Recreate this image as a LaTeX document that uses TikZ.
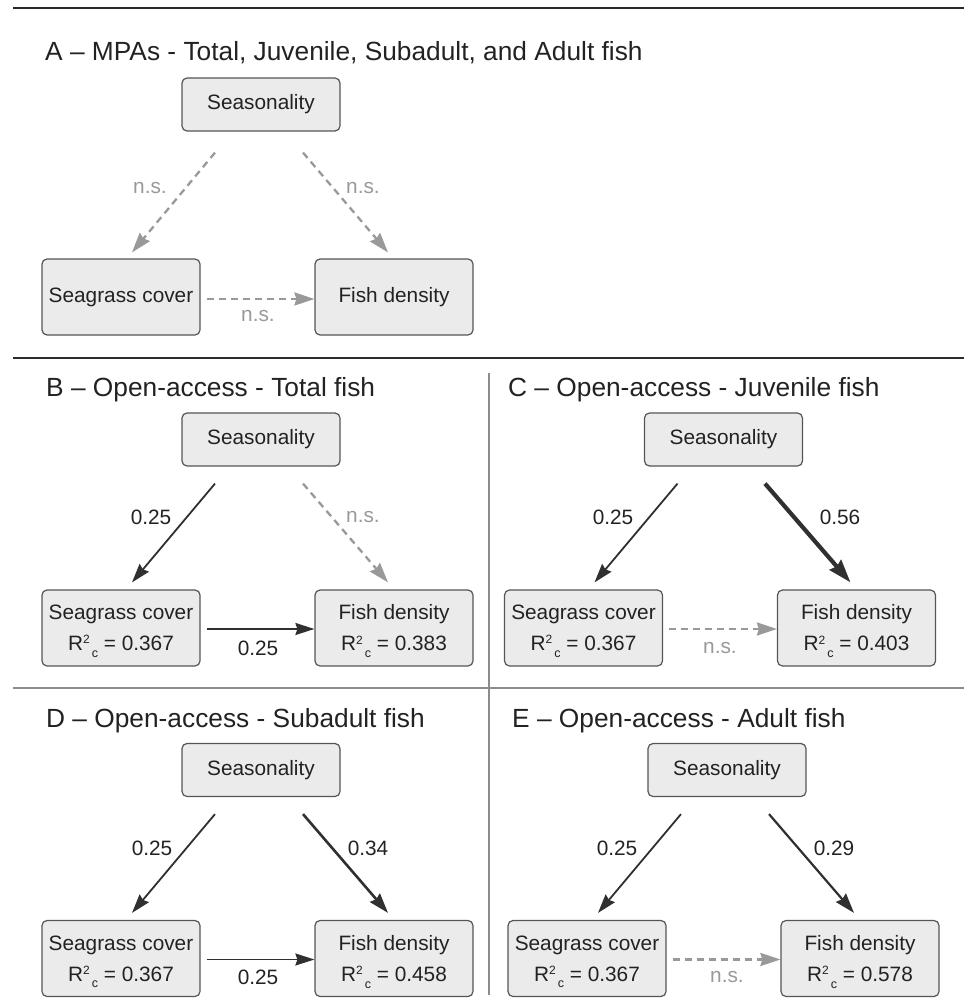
\documentclass[tikz,border=0pt]{standalone}
\usepackage{fontspec}
\setmainfont{Liberation Sans}
\usetikzlibrary{arrows.meta,calc}
\definecolor{boxfill}{HTML}{EBEBEB}
\definecolor{boxborder}{HTML}{555555}
\definecolor{dark}{HTML}{303030}
\definecolor{nsgray}{HTML}{999999}
\definecolor{textcol}{HTML}{222222}
\definecolor{sepgray}{HTML}{8C8C8C}
\definecolor{ruledark}{HTML}{2B2B2B}
\newcommand\nodefont{\fontsize{20.8}{31}\selectfont}
\newcommand\titlefont{\fontsize{26.3}{30}\selectfont}
\newcommand\Rc{R\raisebox{6.7pt}{\fontsize{12}{12}\selectfont 2}\hspace{2pt}\raisebox{-6.6pt}[0pt][0pt]{\fontsize{12.5}{12}\selectfont c}}
\begin{document}
\begin{tikzpicture}[x=1pt,y=-1pt,
  box/.style={draw=boxborder, fill=boxfill, rounded corners=5pt, line width=1.2pt,
    minimum width=158pt, inner sep=0pt, text=textcol, font=\nodefont, align=center},
  season/.style={box, minimum height=53pt},
  pair/.style={box, minimum height=76pt},
  sig/.style={draw=dark, line width=1.8pt, -{Stealth[length=19pt,width=12pt,inset=2pt]}},
  sigmid/.style={sig, line width=2.6pt, -{Stealth[length=20pt,width=13pt,inset=2pt]}},
  sigthin/.style={sig, line width=2.2pt, -{Stealth[length=20pt,width=13pt,inset=2pt]}},
  sigbig/.style={sig, line width=4.2pt, -{Stealth[length=23pt,width=15pt,inset=2pt]}},
  nsarrow/.style={draw=nsgray, line width=2.3pt, dash pattern=on 7pt off 5pt,
    -{Stealth[length=20pt,width=13pt,inset=2pt]}},
  lab/.style={font=\nodefont, text=textcol, inner sep=0pt},
  nslab/.style={lab, text=nsgray},
  ttl/.style={font=\titlefont, text=textcol, inner sep=0pt, anchor=base west},
  rule/.style={draw=ruledark, line width=2.6pt},
  sep/.style={draw=sepgray, line width=1.8pt}]
\useasboundingbox (0,0) rectangle (964,1000);

% rules
\draw[rule] (13,8) -- (964,8);
\draw[rule] (13,358) -- (964,358);
\draw[sep] (13,688) -- (964,688);
\draw[sep] (489,373) -- (489,995);

% titles
\node[ttl] (tA) at (45,61) {A -- MPAs - Total, Juvenile, Subadult, and Adult fish};
\node[ttl] (tB) at (46,396) {B -- Open-access - Total fish};
\node[ttl] (tC) at (508,396) {C -- Open-access - Juvenile fish};
\node[ttl] (tD) at (46,727) {D -- Open-access - Subadult fish};
\node[ttl] (tE) at (512,727) {E -- Open-access - Adult fish};

% Panel A
\node[season] (sA) at (261,104.5) {Seasonality};
\node[pair] (gA) at (121,297) {Seagrass cover};
\node[pair] (fA) at (394,297) {Fish density};
\draw[nsarrow] ($(sA.south)+(-46,21)$) -- ($(gA.north)+(11,-6)$);
\draw[nsarrow] ($(sA.south)+(42,21)$) -- ($(fA.north)+(-6,-6)$);
\draw[nsarrow] ($(gA.east)+(6,2)$) -- ($(fA.west)+(0,2)$);
\node[nslab] (nA1) at (150,188) {n.s.};
\node[nslab] (nA2) at (363,188) {n.s.};
\node[nslab] (nA3) at (258,316) {n.s.};

% Panel B
\node[season] (sB) at (261,439.5) {Seasonality};
\node[pair] (gB) at (121,628) {Seagrass cover\\\Rc{} = 0.367};
\node[pair] (fB) at (394,628) {Fish density\\\Rc{} = 0.383};
\draw[sig] ($(sB.south)+(-46,17)$) -- ($(gB.north)+(11,-7)$);
\draw[nsarrow] ($(sB.south)+(42,17)$) -- ($(fB.north)+(-6,-7)$);
\draw[sig] ($(gB.east)+(6,1)$) -- ($(fB.west)+(0,1)$);
\node[lab] (lB1) at (151,517) {0.25};
\node[nslab] (lB2) at (363,517) {n.s.};
\node[lab] (lB3) at (258,648) {0.25};

% Panel C
\begin{scope}[shift={(462.5,0)}]
\node[season] (sC) at (261,439.5) {Seasonality};
\node[pair] (gC) at (121,628) {Seagrass cover\\\Rc{} = 0.367};
\node[pair] (fC) at (394,628) {Fish density\\\Rc{} = 0.403};
\draw[sig] ($(sC.south)+(-46,17)$) -- ($(gC.north)+(11,-7)$);
\draw[sigbig] ($(sC.south)+(41.5,17)$) -- ($(fC.north)+(-6,-7)$);
\draw[nsarrow] ($(gC.east)+(5.5,1)$) -- ($(fC.west)+(0,1)$);
\node[lab] (lC1) at (150.5,517) {0.25};
\node[lab] (lC2) at (377.5,517) {0.56};
\node[nslab] (lC3) at (257.5,648) {n.s.};
\end{scope}

% Panel D
\begin{scope}[shift={(0,330.5)}]
\node[season] (sD) at (261,439.5) {Seasonality};
\node[pair] (gD) at (121,628) {Seagrass cover\\\Rc{} = 0.367};
\node[pair] (fD) at (394,628) {Fish density\\\Rc{} = 0.458};
\draw[sig] ($(sD.south)+(-46,17)$) -- ($(gD.north)+(11,-7)$);
\draw[sigmid] ($(sD.south)+(42,17)$) -- ($(fD.north)+(-6,-7)$);
\draw[sig] ($(gD.east)+(6,1)$) -- ($(fD.west)+(0,1)$);
\node[lab] (lD1) at (152,517.5) {0.25};
\node[lab] (lD2) at (368,517.5) {0.34};
\node[lab] (lD3) at (258,646.5) {0.25};
\end{scope}

% Panel E
\begin{scope}[shift={(466,330.5)}]
\node[season] (sE) at (261,439.5) {Seasonality};
\node[pair] (gE) at (121,628) {Seagrass cover\\\Rc{} = 0.367};
\node[pair] (fE) at (394,628) {Fish density\\\Rc{} = 0.578};
\draw[sig] ($(sE.south)+(-46,17)$) -- ($(gE.north)+(11,-7)$);
\draw[sigthin] ($(sE.south)+(42,17)$) -- ($(fE.north)+(-6,-7)$);
\draw[nsarrow] ($(gE.east)+(6,1)$) -- ($(fE.west)+(0,1)$);
\node[lab] (lE1) at (151,517.5) {0.25};
\node[lab] (lE2) at (368,517.5) {0.29};
\node[nslab] (lE3) at (261,646.5) {n.s.};
\end{scope}
\end{tikzpicture}
\end{document}
